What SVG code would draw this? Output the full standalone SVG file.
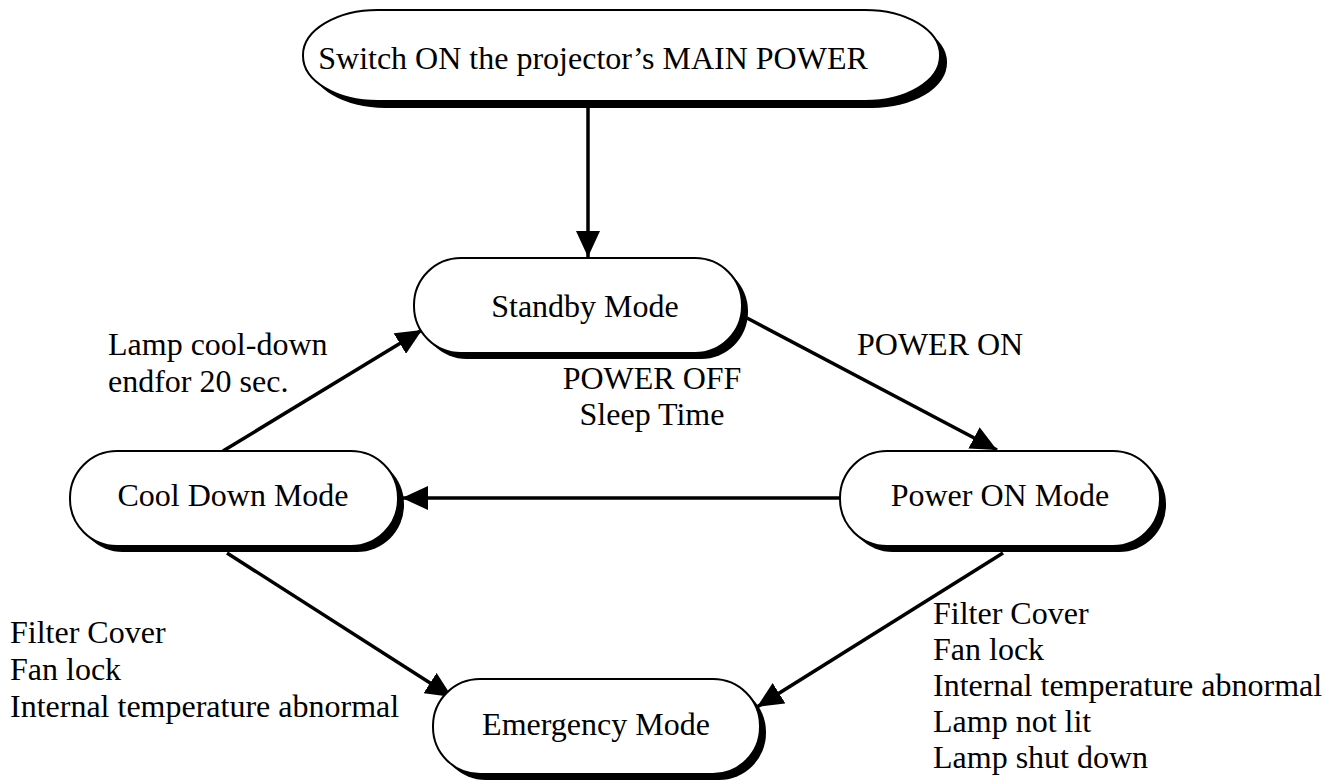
<svg xmlns="http://www.w3.org/2000/svg" width="1335" height="782" viewBox="0 0 1335 782">
<defs>
<style>
.sh{fill:#000;}
.nd{fill:#fff;stroke:#000;stroke-width:2;}
.t{font-family:"Liberation Serif","Times New Roman",serif;font-size:32px;fill:#000;}
.c{text-anchor:middle;}
.ln{stroke:#000;stroke-width:3.5;fill:none;marker-end:url(#ah);}
</style>
<marker id="ah" viewBox="0 0 26 24" refX="26" refY="12" markerWidth="26" markerHeight="24" markerUnits="userSpaceOnUse" orient="auto">
<path d="M0,0 L26,12 L0,24 z" fill="#000"/>
</marker>
</defs>
<rect width="1335" height="782" fill="#fff"/>
<g id="connectors">
<line class="ln" x1="588" y1="108" x2="588" y2="257"/>
<line class="ln" x1="747" y1="318" x2="997" y2="450"/>
<line class="ln" x1="840" y1="498" x2="402" y2="498"/>
<line class="ln" x1="223" y1="451" x2="422" y2="330"/>
<line class="ln" x1="227" y1="553" x2="452" y2="697"/>
<line class="ln" x1="1003" y1="553" x2="757" y2="707"/>
</g>
<g id="main-power">
<rect class="sh" x="310" y="17" width="637" height="91" rx="75" ry="45"/>
<rect class="nd" x="303" y="10" width="637" height="91" rx="75" ry="45"/>
<text class="t c" x="593" y="69">Switch ON the projector’s MAIN POWER</text>
</g>
<g id="standby">
<rect class="sh" x="420" y="264" width="328" height="95" rx="47" ry="47"/>
<rect class="nd" x="414" y="258" width="328" height="95" rx="47" ry="47"/>
<text class="t c" x="585" y="317">Standby Mode</text>
</g>
<g id="cooldown">
<rect class="sh" x="76" y="457" width="328" height="95" rx="47" ry="47"/>
<rect class="nd" x="70" y="451" width="328" height="95" rx="47" ry="47"/>
<text class="t c" x="233" y="506">Cool Down Mode</text>
</g>
<g id="poweron">
<rect class="sh" x="846" y="457" width="320" height="95" rx="47" ry="47"/>
<rect class="nd" x="840" y="451" width="320" height="95" rx="47" ry="47"/>
<text class="t c" x="1000" y="506">Power ON Mode</text>
</g>
<g id="emergency">
<rect class="sh" x="439" y="685" width="327" height="95" rx="47" ry="47"/>
<rect class="nd" x="433" y="679" width="327" height="95" rx="47" ry="47"/>
<text class="t c" x="596" y="735">Emergency Mode</text>
</g>
<g id="labels">
<text class="t" x="857" y="355">POWER ON</text>
<text class="t" x="108" y="355">Lamp cool-down</text>
<text class="t" x="108" y="392">endfor 20 sec.</text>
<text class="t c" x="652" y="389">POWER OFF</text>
<text class="t c" x="652" y="425">Sleep Time</text>
<text class="t" x="10" y="643">Filter Cover</text>
<text class="t" x="10" y="680">Fan lock</text>
<text class="t" x="10" y="717">Internal temperature abnormal</text>
<text class="t" x="933" y="624">Filter Cover</text>
<text class="t" x="933" y="660">Fan lock</text>
<text class="t" x="933" y="696">Internal temperature abnormal</text>
<text class="t" x="933" y="732">Lamp not lit</text>
<text class="t" x="933" y="768">Lamp shut down</text>
</g>
</svg>
